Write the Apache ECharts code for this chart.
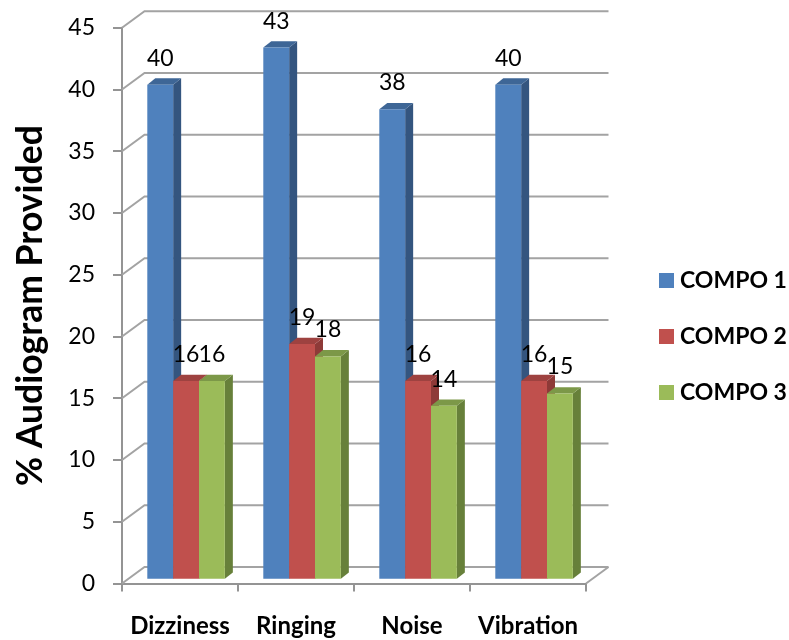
<!DOCTYPE html>
<html>
<head>
<meta charset="utf-8">
<style>html,body{margin:0;padding:0;background:#fff}#c{width:789px;height:640px}</style>
<script src="https://cdn.jsdelivr.net/npm/echarts@6/dist/echarts.min.js"></script>
</head>
<body>
<div id="c"></div>
<script>
const categories = ['Dizziness', 'Ringing', 'Noise', 'Vibration'];
const compo1 = [40, 43, 38, 40];
const compo2 = [16, 19, 16, 16];
const compo3 = [16, 18, 14, 15];
const wallTicks = [0, 5, 10, 15, 20, 25, 30, 35, 40, 45];

const FONT = 'Lato';
const seriesStyles = [
  { name: 'COMPO 1', values: compo1, front: '#4F81BD', side: '#34557F', top: '#3E6696' },
  { name: 'COMPO 2', values: compo2, front: '#C0504D', side: '#8E3A38', top: '#9E4240' },
  { name: 'COMPO 3', values: compo3, front: '#9BBB59', side: '#67803A', top: '#7C9848' }
];

const chart = echarts.init(document.getElementById('c'), null, { renderer: 'canvas' });

const wallDx = 22.5, wallDy = 16.5;
const barStart = 25.3 / 116, barWidth = 25.85 / 116;
const barDx = 8, barDy = 6.3, floorLift = 4.8;

function renderWall(params, api) {
  const v = api.value(1);
  const y = api.coord([0, v])[1];
  const cs = params.coordSys;
  const children = [{
    type: 'polyline',
    shape: { points: [[cs.x, y], [cs.x + wallDx, y - wallDy], [cs.x + cs.width + wallDx, y - wallDy]] },
    style: { stroke: '#A3A3A3', lineWidth: 2, fill: null }
  }];
  if (v === 0) {
    children.push({
      type: 'line',
      shape: { x1: cs.x + cs.width, y1: y, x2: cs.x + cs.width + wallDx, y2: y - wallDy },
      style: { stroke: '#A3A3A3', lineWidth: 2 }
    });
  }
  return { type: 'group', children };
}

function makeRender(i, st) {
  return function (params, api) {
    const idx = api.value(0), val = api.value(1);
    const band = api.size([1, 0])[0];
    const cx = api.coord([idx, 0])[0];
    const x0 = cx - band / 2 + band * (barStart + barWidth * i);
    const x1 = x0 + band * barWidth;
    const yb = api.coord([idx, 0])[1] - floorLift;
    const yt = api.coord([idx, val])[1] - floorLift;
    return {
      type: 'group',
      children: [
        { type: 'polygon', shape: { points: [[x1, yb], [x1 + barDx, yb - barDy], [x1 + barDx, yt - barDy], [x1, yt]] }, style: { fill: st.side } },
        { type: 'polygon', shape: { points: [[x0, yt], [x0 + barDx, yt - barDy], [x1 + barDx, yt - barDy], [x1, yt]] }, style: { fill: st.top } },
        { type: 'rect', shape: { x: x0, y: yt, width: x1 - x0, height: yb - yt }, style: { fill: st.front } },
        { type: 'text', style: { text: String(val), x: (x0 + x1) / 2, y: yt - 26.5, align: 'center', verticalAlign: 'middle', fill: '#000', font: '23px ' + FONT } }
      ]
    };
  };
}

chart.setOption({
  animation: false,
  backgroundColor: '#fff',
  grid: { left: 122, top: 27.7, width: 464, height: 555.8, containLabel: false, outerBoundsMode: 'none' },
  legend: {
    orient: 'vertical', left: 654, top: 264,
    itemWidth: 15, itemHeight: 15, itemGap: 33, icon: 'rect',
    data: seriesStyles.map(s => s.name),
    textStyle: { fontFamily: FONT, fontWeight: 'bold', fontSize: 23, color: '#000', padding: [0, 0, 0, 1] }
  },
  xAxis: {
    type: 'category', data: categories,
    axisLine: { lineStyle: { color: '#949494', width: 2 } },
    axisTick: { show: true, alignWithLabel: false, length: 8, lineStyle: { color: '#949494', width: 2 } },
    axisLabel: { fontFamily: FONT, fontWeight: 'bold', fontSize: 24, color: '#000', margin: 31, interval: 0 }
  },
  yAxis: {
    type: 'value', min: 0, max: 45, interval: 5,
    name: '% Audiogram Provided', nameLocation: 'middle', nameGap: 73, nameRotate: 90,
    nameTextStyle: { fontFamily: FONT, fontWeight: 'bold', fontSize: 35.5, color: '#000' },
    splitLine: { show: false },
    axisLine: { show: true, lineStyle: { color: '#949494', width: 2 } },
    axisTick: { show: true, length: 9, lineStyle: { color: '#949494', width: 2 } },
    axisLabel: { fontFamily: FONT, fontSize: 23, color: '#000', margin: 27 }
  },
  series: [
    { type: 'custom', name: 'wall', silent: true, z: 1, renderItem: renderWall, coordinateSystem: 'cartesian2d',
      data: wallTicks.map(v => [0, v]), encode: { x: 0, y: 1 } }
  ].concat(seriesStyles.map((st, i) => ({
    type: 'custom', name: st.name, z: 2 + i, coordinateSystem: 'cartesian2d',
    renderItem: makeRender(i, st),
    itemStyle: { color: st.front },
    data: st.values.map((v, k) => [k, v]),
    encode: { x: 0, y: 1 }
  })))
});
</script>
</body>
</html>
